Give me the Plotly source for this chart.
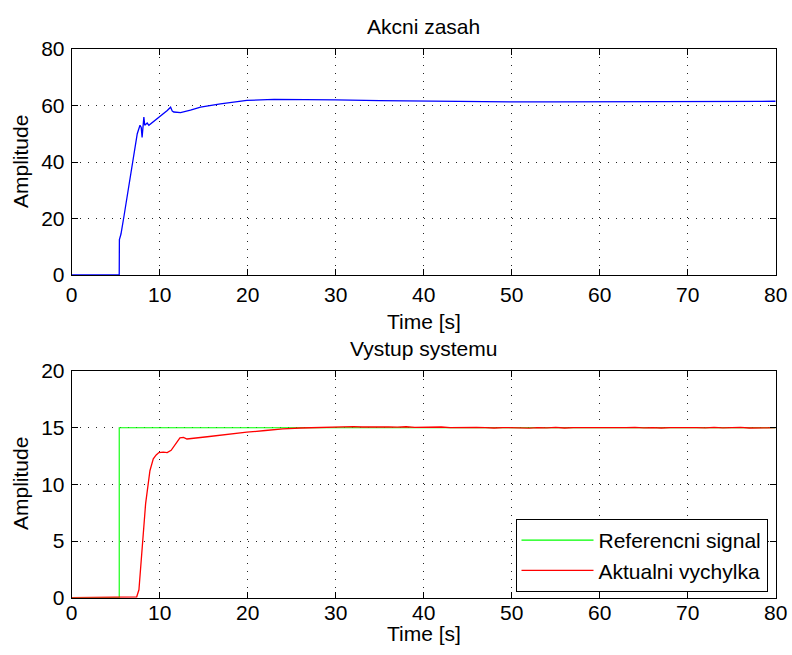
import plotly.graph_objects as go

# Control signal (Akcni zasah)
t_u = [0, 5.4, 5.42, 5.6, 5.94, 6.4, 6.88, 7.45, 7.76, 7.9, 8.0, 8.2, 8.3, 8.58, 8.77,
       9.35, 10.1, 10.86, 11.24, 11.43, 11.6, 12.37, 13.5, 14.64, 16.9, 19.9, 23, 26,
       30, 35, 40, 45, 50, 55, 60, 65, 70, 75, 80]
u = [0, 0, 12.5, 14.5, 20.8, 30, 39.5, 50, 53, 52.2, 48.7, 55.9, 53, 53.8, 53,
     54.5, 56.1, 58.2, 59.4, 58, 57.7, 57.5, 58.4, 59.4, 60.6, 61.8, 62.2, 62.2,
     62.0, 61.7, 61.5, 61.4, 61.3, 61.3, 61.3, 61.4, 61.4, 61.5, 61.5]

# Reference signal (step)
t_ref = [0, 5.4, 5.4, 80]
ref = [0, 0, 15, 15]

# System output (Aktualni vychylka)
t_y = [0, 7.2, 7.38, 7.64, 8.02, 8.4, 8.89, 9.27, 9.6, 9.91, 10.4, 10.85, 11.3, 11.8,
       12.3, 12.7, 13.1, 15.4, 17.5, 19.9, 22, 24, 26, 28,
       30, 31, 32, 33, 34, 35, 36, 37, 38, 39, 40, 41, 42, 43, 44, 45, 46, 47, 48, 49,
       50, 51, 52, 53, 54, 55, 56, 57, 58, 59, 60, 61, 62, 63, 64, 65, 66, 67, 68, 69,
       70, 71, 72, 73, 74, 75, 76, 77, 78, 79, 80]
y = [0, 0, 0.06, 0.7, 4.5, 8.3, 11.2, 12.25, 12.6, 12.8, 12.85, 12.8, 13.0, 13.6,
     14.1, 14.15, 14.0, 14.2, 14.4, 14.6, 14.75, 14.9, 14.97, 15.02,
     15.08, 15.05, 15.1, 15.06, 15.08, 15.04, 15.07, 15.05, 15.08, 15.03, 15.05,
     15.02, 15.06, 15.01, 15.03, 14.99, 15.02, 15.0, 14.97, 15.01,
     14.98, 15.0, 14.96, 15.01, 14.98, 15.02, 14.97, 15.0, 14.99, 15.03, 14.98,
     15.01, 14.97, 15.0, 15.02, 14.98, 15.01, 14.97, 15.0, 15.02,
     14.98, 15.01, 14.99, 15.03, 14.98, 15.0, 15.02, 14.97, 15.01, 14.99, 15.0]

x_ticks = [0, 10, 20, 30, 40, 50, 60, 70, 80]
u_ticks = [0, 20, 40, 60, 80]
y_ticks = [0, 5, 10, 15, 20]

FONT = "Liberation Sans, Arial, Helvetica, sans-serif"
FS = 21

fig = go.Figure()
fig.add_trace(go.Scatter(x=t_u, y=u, mode="lines", line=dict(color="#0000ff", width=1.3),
                         showlegend=False, xaxis="x", yaxis="y"))
fig.add_trace(go.Scatter(x=t_ref, y=ref, mode="lines", name="Referencni signal",
                         line=dict(color="#00ff00", width=1.1), xaxis="x2", yaxis="y2"))
fig.add_trace(go.Scatter(x=t_y, y=y, mode="lines", name="Aktualni vychylka",
                         line=dict(color="#ff0000", width=1.3), xaxis="x2", yaxis="y2"))

axis_common = dict(
    showline=True, linecolor="black", linewidth=1, mirror="ticks",
    ticks="inside", ticklen=6, tickcolor="black", tickwidth=1,
    showgrid=True, gridcolor="#222", gridwidth=1, griddash="1px,7px",
    zeroline=False, automargin=False,
    tickfont=dict(family=FONT, size=FS, color="black"),
)

xd = [71.7 / 792, 775.7 / 792]
fig.update_layout(
    width=792, height=655, margin=dict(l=0, r=0, t=0, b=0),
    paper_bgcolor="white", plot_bgcolor="white",
    font=dict(family=FONT, size=FS, color="black"),
    xaxis=dict(domain=xd, range=[0, 80], tickvals=x_ticks, anchor="y",
               ticklabelstandoff=1, **axis_common),
    yaxis=dict(domain=[1 - 275 / 655, 1 - 49 / 655], range=[0, 80], tickvals=u_ticks,
               anchor="x", ticklabelstandoff=2, **axis_common),
    xaxis2=dict(domain=xd, range=[0, 80], tickvals=x_ticks, anchor="y2",
                ticklabelstandoff=-4, **axis_common),
    yaxis2=dict(domain=[1 - 597.7 / 655, 1 - 371 / 655], range=[0, 20], tickvals=y_ticks,
                anchor="x2", ticklabelstandoff=2, **axis_common),
    legend=dict(x=767.5 / 792, y=1 - 592 / 655, xanchor="right", yanchor="bottom",
                bgcolor="white", bordercolor="black", borderwidth=1,
                font=dict(family=FONT, size=FS, color="black"),
                itemwidth=72, tracegroupgap=0),
)

xc = (xd[0] + xd[1]) / 2
labels = [
    ("Akcni zasah", xc, 1 - 27 / 655, 0),
    ("Time [s]", xc, 1 - 321 / 655, 0),
    ("Vystup systemu", xc, 1 - 348 / 655, 0),
    ("Time [s]", xc, 1 - 633 / 655, 0),
    ("Amplitude", 20 / 792, 1 - 162 / 655, -90),
    ("Amplitude", 20 / 792, 1 - 484 / 655, -90),
]
for text, x, yy, ang in labels:
    fig.add_annotation(text=text, x=x, y=yy, xref="paper", yref="paper",
                       xanchor="center", yanchor="middle", showarrow=False,
                       textangle=ang, font=dict(family=FONT, size=FS, color="black"))

fig.write_html("out.html")
